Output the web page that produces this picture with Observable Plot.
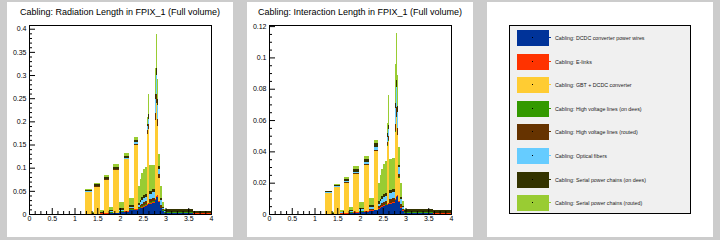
<!DOCTYPE html>
<html>
<head>
<meta charset="utf-8">
<script src="https://cdn.jsdelivr.net/npm/d3@7"></script>
<script src="https://cdn.jsdelivr.net/npm/@observablehq/plot@0.6"></script>
<style>
  html, body { margin: 0; padding: 0; }
  body { width: 720px; height: 240px; background: #cccccc; font-family: "Liberation Sans", Arial, sans-serif; }
  #root { position: relative; width: 720px; height: 240px; background: #cccccc; overflow: hidden; }
  .pad { position: absolute; top: 2px; width: 226px; height: 235px; background: #ffffff; }
  .pad svg { position: absolute; left: 0; top: 0; }
  .title { position: absolute; left: 0; top: 5px; width: 226px; text-align: center; font-size: 9px; color: #000; white-space: nowrap; z-index: 2; }
  .legend { position: absolute; left: 22px; top: 23px; width: 180px; height: 187px; border: 1px solid #000; background: #f0f0f0; }
  .entry { position: absolute; left: 0; height: 16px; width: 178px; }
  .sw { position: absolute; left: 7px; top: 0; width: 32px; height: 16px; }
  .dot { position: absolute; left: 15px; top: 7px; width: 1px; height: 1px; background: #000; }
  .tick { position: absolute; left: 32px; top: 7px; width: 2px; height: 1px; }
  .lt { position: absolute; left: 45px; top: 4px; font-size: 5.3px; line-height: 8px; color: #222; white-space: nowrap; }
</style>
</head>
<body>
<div id="root"></div>
<script>
// ---- Series (stack order, bottom to top) ----
const seriesNames = [
  "Cabling: DCDC converter power wires",
  "Cabling: E-links",
  "Cabling: GBT + DCDC converter",
  "Cabling: High voltage lines (on dees)",
  "Cabling: High voltage lines (routed)",
  "Cabling: Optical fibers",
  "Cabling: Serial power chains (on dees)",
  "Cabling: Serial power chains (routed)"
];
const seriesColors = ["#003399", "#ff3300", "#ffcc33", "#339900", "#663300", "#66ccff", "#333300", "#99cc33"];

// ---- Bin edges in eta ----
const binEdges = [1.23, 1.39, 1.43, 1.57, 1.65, 1.76, 1.85, 1.97, 2.09, 2.19, 2.31, 2.39, 2.43, 2.47, 2.51, 2.55, 2.59, 2.62, 2.645, 2.70, 2.78, 2.80, 2.82, 2.845, 2.88, 2.92, 2.96, 3.00, 3.60, 4.00];

// ---- Radiation length (x/X0) per series ----
const radDCDC   = [0,0,0,.001,.001,.002,.002,.004,.005,.008,.009,.010,.012,.014,.016,.018,.020,.021,.022,.024,.030,.036,.037,.025,.012,.006,.002,.002,.001];
const radElinks = [.001,.001,.001,.001,.001,.001,.001,.001,.001,.001,.001,.001,.002,.002,.002,.002,.002,.002,.002,.002,.002,.003,.003,.002,.001,.001,.001,.001,.001];
const radGBT    = [.046,0,.058,0,.072,0,.093,0,.112,0,.140,0,0,0,0,0,.150,.160,0,0,.170,.200,.150,.050,0,0,0,0,0];
const radHVdees = [0,0,0,.001,0,.001,0,.001,0,.001,0,.001,.001,.001,.001,.001,.001,.001,.001,.001,.001,.001,.001,.001,.001,.001,.001,.001,.001];
const radHVrout = [.001,0,.001,0,.001,.001,.001,.001,.001,.002,.002,.003,.004,.005,.006,.006,.008,.010,.007,.008,.015,.020,.015,.008,.006,.002,.001,0,0];
const radOptic  = [.001,0,.001,0,.001,.001,.001,.002,.002,.003,.003,.005,.006,.008,.009,.010,.008,.012,.012,.012,.030,.040,.030,.012,.010,.003,.001,0,0];
const radSPdees = [.002,.001,.003,.001,.004,.002,.004,.003,.005,.004,.005,.004,.005,.006,.006,.007,.006,.010,.006,.006,.012,.015,.012,.006,.004,.003,.003,.006,.004];
const radSProut = [.002,.002,.002,.005,.004,.007,.005,.013,.006,.016,.007,.036,.045,.052,.057,.058,.015,.044,.055,.053,.055,.073,.044,.026,.026,.009,.001,0,0];

// ---- Interaction length (x/lambda0) per series ----
const intDCDC   = [0,0,0,.0003,.0003,.0006,.0007,.0012,.0015,.0022,.0025,.0032,.0038,.0045,.0050,.0055,.0060,.0063,.0065,.0070,.0090,.0110,.0115,.0075,.0040,.0020,.0005,.0006,.0003];
const intElinks = [.0003,.0003,.0003,.0003,.0003,.0003,.0003,.0003,.0003,.0003,.0003,.0004,.0005,.0005,.0005,.0005,.0005,.0005,.0005,.0005,.0006,.0008,.0008,.0006,.0004,.0003,.0003,.0003,.0003];
const intGBT    = [.0130,0,.0168,0,.0195,0,.0245,0,.0295,0,.0375,0,0,0,0,0,.0370,.0400,0,0,.0430,.0500,.0380,.0150,0,0,0,0,0];
const intHVdees = [0,0,0,.0003,0,.0003,0,.0003,0,.0003,0,.0003,.0003,.0003,.0003,.0003,.0003,.0003,.0003,.0003,.0003,.0003,.0003,.0003,.0003,.0003,.0003,.0004,.0003];
const intHVrout = [.0002,0,.0002,0,.0003,.0003,.0004,.0004,.0005,.0006,.0008,.0010,.0013,.0016,.0018,.0019,.0025,.0030,.0021,.0024,.0045,.0060,.0045,.0024,.0020,.0008,.0002,0,0];
const intOptic  = [.0003,0,.0003,.0001,.0005,.0004,.0008,.0007,.0012,.0010,.0018,.0018,.0022,.0028,.0030,.0032,.0030,.0040,.0040,.0040,.0100,.0130,.0100,.0040,.0030,.0010,.0002,0,0];
const intSPdees = [.0006,.0003,.0007,.0003,.0015,.0006,.0018,.0010,.0020,.0012,.0022,.0013,.0016,.0018,.0019,.0020,.0022,.0030,.0018,.0018,.0036,.0045,.0036,.0018,.0012,.0008,.0010,.0021,.0014];
const intSProut = [.0006,.0006,.0006,.0015,.0013,.0022,.0019,.0040,.0023,.0049,.0024,.0120,.0153,.0175,.0195,.0206,.0065,.0187,.0198,.0200,.0245,.0299,.0198,.0114,.0091,.0028,.0005,0,0];

// ---- Axis ticks ----
const xMajorTicks = [0, 0.5, 1, 1.5, 2, 2.5, 3, 3.5, 4];
const radYTicks = [0, 0.05, 0.1, 0.15, 0.2, 0.25, 0.3, 0.35, 0.4];
const intYTicks = [0, 0.02, 0.04, 0.06, 0.08, 0.1, 0.12];

const titles = [
  "Cabling: Radiation Length in FPIX_1 (Full volume)",
  "Cabling: Interaction Length in FPIX_1 (Full volume)"
];

function rowsFor(seriesArrays) {
  const rows = [];
  seriesArrays.forEach((vals, i) => {
    vals.forEach((v, j) => {
      rows.push({series: seriesNames[i], x1: binEdges[j], x2: binEdges[j + 1], value: v});
    });
  });
  return rows;
}

function minorTicks(lo, hi, step, majors) {
  const out = [];
  const n = Math.round((hi - lo) / step);
  for (let k = 0; k <= n; k++) {
    const t = +(lo + k * step).toFixed(6);
    if (!majors.some(m => Math.abs(m - t) < 1e-9)) out.push(t);
  }
  return out;
}

const W = 226, H = 235, ML = 22, MR = 22, MT = 23, MB = 23;
const innerW = W - ML - MR, innerH = H - MT - MB;

function histPanel(seriesArrays, ymax, yTicks, yMinorStep) {
  const rows = rowsFor(seriesArrays);
  const xMinor = minorTicks(0, 4, 0.125, xMajorTicks);
  const yMinor = minorTicks(0, yTicks[yTicks.length - 1], yMinorStep, yTicks);
  return Plot.plot({
    width: W, height: H,
    marginLeft: ML, marginRight: MR, marginTop: MT, marginBottom: MB,
    style: {background: "white", fontFamily: "'Liberation Sans', Arial, sans-serif", fontSize: "7px", color: "black"},
    x: {domain: [0, 4]},
    y: {domain: [0, ymax]},
    color: {domain: seriesNames, range: seriesColors},
    marks: [
      Plot.rectY(rows, Plot.stackY({x1: "x1", x2: "x2", y: "value", fill: "series", shapeRendering: "crispEdges"})),
      Plot.tickX(xMajorTicks, {x: d => d, insetTop: innerH - 6, stroke: "black"}),
      Plot.tickX(xMinor, {x: d => d, insetTop: innerH - 3, stroke: "black"}),
      Plot.tickY(yTicks, {y: d => d, insetRight: innerW - 6, stroke: "black"}),
      Plot.tickY(yMinor, {y: d => d, insetRight: innerW - 3, stroke: "black"}),
      Plot.axisX(xMajorTicks, {tickSize: 0, tickPadding: 2, label: null, tickFormat: d => String(d), fontSize: 7}),
      Plot.axisY(yTicks, {tickSize: 0, tickPadding: 3, label: null, tickFormat: d => String(d), fontSize: 7}),
      Plot.frame({stroke: "black"})
    ]
  });
}

const root = document.getElementById("root");
function makePad(left) {
  const d = document.createElement("div");
  d.className = "pad";
  d.style.left = left + "px";
  root.appendChild(d);
  return d;
}

const pad1 = makePad(7);
pad1.appendChild(histPanel([radDCDC, radElinks, radGBT, radHVdees, radHVrout, radOptic, radSPdees, radSProut], 0.408, radYTicks, 0.01));
const t1 = document.createElement("div"); t1.className = "title"; t1.textContent = titles[0]; pad1.appendChild(t1);

const pad2 = makePad(247);
pad2.appendChild(histPanel([intDCDC, intElinks, intGBT, intHVdees, intHVrout, intOptic, intSPdees, intSProut], 0.1207, intYTicks, 0.005));
const t2 = document.createElement("div"); t2.className = "title"; t2.textContent = titles[1]; pad2.appendChild(t2);

const pad3 = makePad(487);
const leg = document.createElement("div"); leg.className = "legend"; pad3.appendChild(leg);
seriesNames.forEach((name, i) => {
  const e = document.createElement("div");
  e.className = "entry";
  e.style.top = (4 + i * 23.6) + "px";
  const sw = document.createElement("div"); sw.className = "sw"; sw.style.background = seriesColors[i];
  const dot = document.createElement("div"); dot.className = "dot"; sw.appendChild(dot);
  const tk = document.createElement("div"); tk.className = "tick"; tk.style.background = seriesColors[i]; sw.appendChild(tk);
  const lt = document.createElement("div"); lt.className = "lt"; lt.textContent = name;
  e.appendChild(sw); e.appendChild(lt);
  leg.appendChild(e);
});
</script>
</body>
</html>
